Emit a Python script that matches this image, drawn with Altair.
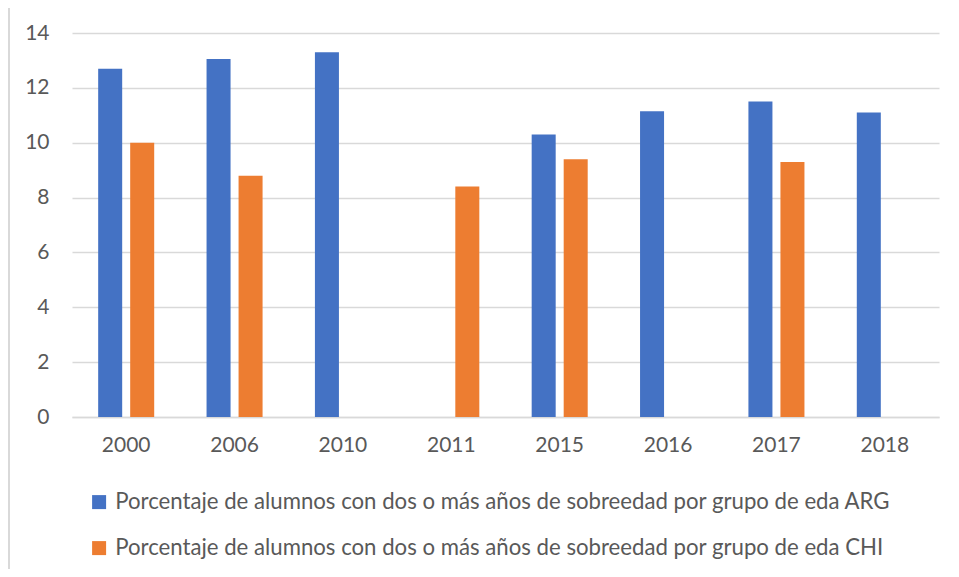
import altair as alt
import pandas as pd

years = ["2000", "2006", "2010", "2011", "2015", "2016", "2017", "2018"]
arg_vals = [12.7, 13.05, 13.3, None, 10.3, 11.15, 11.5, 11.1]
chi_vals = [10.0, 8.8, None, 8.4, 9.4, None, 9.3, None]
series_arg = "Porcentaje de alumnos con dos o más años de sobreedad por grupo de eda ARG"
series_chi = "Porcentaje de alumnos con dos o más años de sobreedad por grupo de eda CHI"
y_ticks = [0, 2, 4, 6, 8, 10, 12, 14]

rows = []
for yr, a, c in zip(years, arg_vals, chi_vals):
    if a is not None:
        rows.append({"year": yr, "serie": series_arg, "value": a})
    if c is not None:
        rows.append({"year": yr, "serie": series_chi, "value": c})
df = pd.DataFrame(rows)

FONT = "Lato"
GREY = "#595959"

bars = alt.Chart(df).mark_bar().encode(
    x=alt.X("year:N", sort=years, title=None,
            scale=alt.Scale(domain=years, paddingInner=0.483, paddingOuter=0.2415),
            axis=alt.Axis(labelAngle=0, ticks=False, labelPadding=17, domainColor="#d9d9d9",
                          domainWidth=1.5, grid=False, labelFont=FONT, labelFontSize=21,
                          labelColor=GREY)),
    xOffset=alt.XOffset("serie:N", sort=[series_arg, series_chi],
                        scale=alt.Scale(domain=[series_arg, series_chi], paddingInner=0.25, paddingOuter=0)),
    y=alt.Y("value:Q", title=None,
            scale=alt.Scale(domain=[0, 14], nice=False),
            axis=alt.Axis(values=y_ticks, ticks=False, domain=False, labelPadding=23,
                          gridColor="#d9d9d9", gridWidth=1.5, labelFont=FONT, labelFontSize=21,
                          labelColor=GREY)),
    color=alt.Color("serie:N", sort=[series_arg, series_chi],
                    scale=alt.Scale(domain=[series_arg, series_chi], range=["#4472c4", "#ed7d31"]),
                    legend=alt.Legend(title=None, orient="none", legendX=16, legendY=458,
                                      direction="vertical", symbolType="square", symbolSize=196,
                                      symbolStrokeWidth=0, labelFont=FONT, labelFontSize=22.2,
                                      labelColor=GREY, labelOffset=5, rowPadding=23,
                                      labelLimit=900)),
)

border = alt.Chart(pd.DataFrame({"a": [0]})).mark_rule(color="#d9d9d9", strokeWidth=2).encode(
    x=alt.value(-63), y=alt.value(-30), y2=alt.value(560)
)

chart = alt.layer(border, bars).properties(
    width=867, height=384,
    autosize=alt.AutoSizeParams(type="none"),
    padding={"left": 64, "top": 25, "right": 12, "bottom": 152},
).configure(background="white").configure_view(stroke=None)

chart.save("out.html", embed_options={"renderer": "svg", "actions": False})
